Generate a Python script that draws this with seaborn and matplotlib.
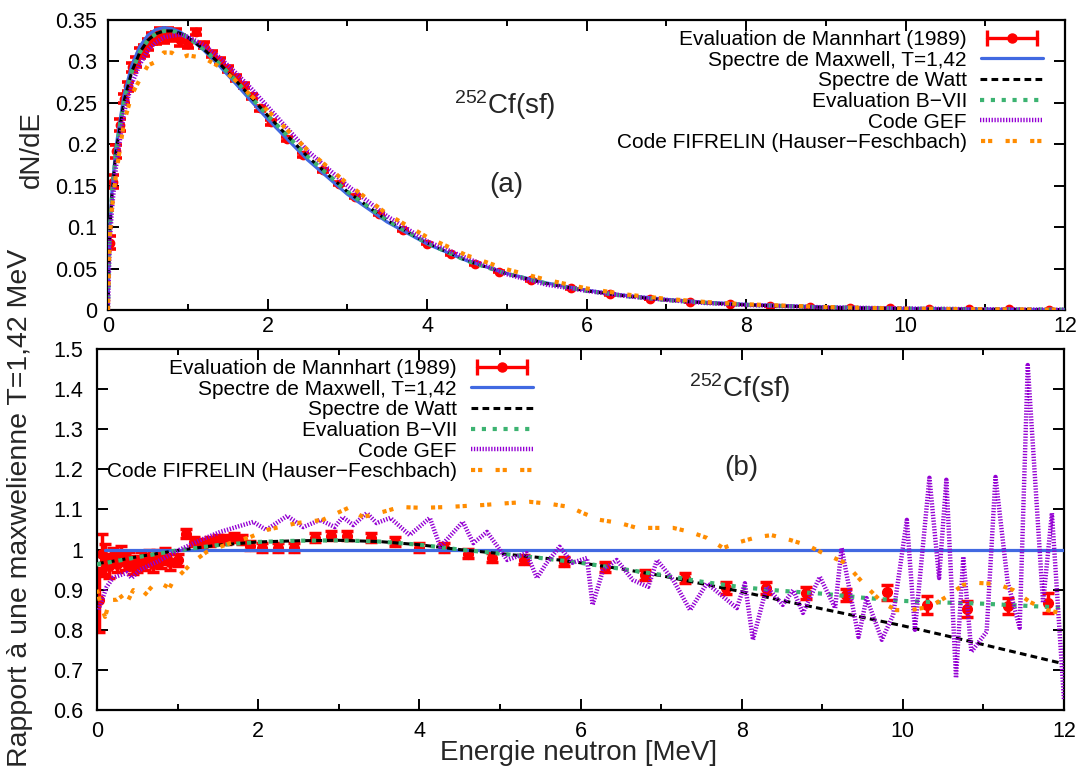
import numpy as np
import pandas as pd
import matplotlib
matplotlib.use("Agg")
import matplotlib.pyplot as plt
import seaborn as sns
from matplotlib.lines import Line2D
from matplotlib.legend_handler import HandlerLine2D, HandlerTuple
from matplotlib.ticker import MultipleLocator, FuncFormatter

# ---------------- data ----------------
# Mannhart evaluation (1989): energy, ratio to Maxwellian, dN/dE
mann_E = [0.02, 0.06, 0.1, 0.15, 0.2, 0.25, 0.3, 0.35, 0.4, 0.45, 0.5, 0.55, 0.6, 0.65, 0.7,
          0.75, 0.8, 0.85, 0.9, 1.0, 1.1, 1.2, 1.3, 1.4, 1.5, 1.6, 1.7, 1.8, 1.9, 2.05, 2.25,
          2.45, 2.7, 2.9, 3.1, 3.4, 3.7, 4.0, 4.3, 4.6, 4.9, 5.3, 5.8, 6.3, 6.8, 7.3, 7.8,
          8.3, 8.8, 9.3, 9.8, 10.3, 10.8, 11.3, 11.8]
mann_ratio = [0.875, 0.99, 0.975, 0.96, 0.985, 0.965, 0.99, 0.97, 0.975, 0.96, 0.965, 0.975,
              0.97, 0.98, 0.965, 0.98, 0.975, 0.985, 0.97, 0.975, 1.04, 1.02, 1.015, 1.02,
              1.025, 1.025, 1.03, 1.025, 1.01, 1.005, 1.005, 1.005, 1.03, 1.035, 1.035, 1.03,
              1.02, 1.005, 1.005, 0.99, 0.98, 0.975, 0.97, 0.957, 0.937, 0.929, 0.904, 0.904,
              0.892, 0.887, 0.893, 0.862, 0.852, 0.859, 0.867]
mann_ratio_err = [0.08, 0.05, 0.04, 0.03] + [0.02] * 15 + [0.015] + [0.012] * 9 + [0.012] * 9 \
    + [0.012] * 5 + [0.013] * 3 + [0.015] * 4 + [0.018, 0.022, 0.02, 0.02, 0.025]
mann_dNdE = [0.0814, 0.155, 0.1916, 0.2231, 0.2551, 0.2698, 0.2927, 0.2991, 0.3102, 0.3128,
             0.32, 0.3273, 0.3283, 0.3333, 0.3289, 0.3337, 0.331, 0.3328, 0.3256, 0.3215,
             0.3352, 0.32, 0.3089, 0.3003, 0.291, 0.2801, 0.2706, 0.2581, 0.2436, 0.2265,
             0.2061, 0.1868, 0.1686, 0.1525, 0.1369, 0.1156, 0.0966, 0.0802, 0.0673, 0.0555,
             0.0459, 0.0358, 0.0262, 0.019, 0.01357, 0.0098, 0.00693, 0.00503, 0.0036,
             0.00258, 0.00188, 0.00131, 0.00093, 0.00068, 0.00049]
mann_dNdE_err = [0.0074, 0.0078, 0.0079, 0.007, 0.0052, 0.0056, 0.0059, 0.0062, 0.0064, 0.0065,
                 0.0066, 0.0067, 0.0068, 0.0068, 0.0068, 0.0068, 0.0068, 0.0068, 0.0067, 0.0049,
                 0.0039, 0.0038, 0.0037, 0.0035, 0.0034, 0.0033, 0.0032, 0.003, 0.0029, 0.0027,
                 0.0025, 0.0022, 0.002, 0.0018, 0.0016, 0.0013, 0.0011, 0.001, 0.0008, 0.0007,
                 0.0006, 0.0004, 0.0003, 0.0003, 0.0002, 0.00014] + [0.0001] * 9

# top panel: spectra dN/dE on an energy grid
top_E = [0, 0.02, 0.05, 0.1, 0.2, 0.3, 0.4, 0.5, 0.6, 0.7, 0.8, 0.9, 1.0, 1.2, 1.4, 1.6, 1.8,
         2.0, 2.5, 3.0, 3.5, 4.0, 4.5, 5.0, 5.5, 6.0, 6.5, 7.0, 7.5, 8.0, 9.0, 10.0, 11.0, 12.0]
top_maxwell = [0, 0.093, 0.1439, 0.1965, 0.259, 0.2957, 0.3182, 0.3316, 0.3385, 0.3408, 0.3395,
               0.3357, 0.3297, 0.3137, 0.2944, 0.2733, 0.2518, 0.2306, 0.1814, 0.1398, 0.1062,
               0.0798, 0.0595, 0.0441, 0.0326, 0.0239, 0.0175, 0.0128, 0.0093, 0.0068, 0.0036,
               0.0019, 0.001, 0.0005]
top_watt = [0, 0.0898, 0.1391, 0.1902, 0.2515, 0.2883, 0.3112, 0.3256, 0.3334, 0.3367, 0.3368,
            0.334, 0.329, 0.315, 0.2973, 0.2771, 0.2561, 0.235, 0.1854, 0.143, 0.1083, 0.0808,
            0.0595, 0.0437, 0.0319, 0.0231, 0.0167, 0.012, 0.0085, 0.0061, 0.0031, 0.0015,
            0.00076, 0.00036]
top_bvii = [0, 0.0898, 0.1391, 0.1902, 0.2515, 0.2883, 0.3112, 0.3256, 0.3334, 0.3367, 0.3368,
            0.334, 0.329, 0.315, 0.2973, 0.2771, 0.2561, 0.235, 0.1854, 0.143, 0.1083, 0.0808,
            0.0595, 0.0437, 0.0319, 0.0231, 0.0167, 0.012, 0.0086, 0.0062, 0.0032, 0.00166,
            0.00087, 0.00043]
top_gef = [0, 0.078, 0.1223, 0.1729, 0.2383, 0.2735, 0.2966, 0.3134, 0.3233, 0.3289, 0.331,
           0.3323, 0.3297, 0.32, 0.3047, 0.2864, 0.2669, 0.2456, 0.1923, 0.1503, 0.1132, 0.083,
           0.0625, 0.0432, 0.0306, 0.0232, 0.0168, 0.0122, 0.0084, 0.006, 0.0032, 0.0018,
           0.0008, 0.0003]
top_fif = [0, 0.0837, 0.1238, 0.1631, 0.2264, 0.2602, 0.2784, 0.2951, 0.2996, 0.3108, 0.3106,
           0.3035, 0.3073, 0.3043, 0.2935, 0.2769, 0.2581, 0.241, 0.1934, 0.1527, 0.1158,
           0.0881, 0.0659, 0.0491, 0.0364, 0.0261, 0.0187, 0.0135, 0.0096, 0.0069, 0.0036,
           0.0016, 0.0009, 0.0004]

# bottom panel: ratios to a Maxwellian T=1.42 MeV
max_E = [0.1, 12.0]
max_r = [1.0, 1.0]
rat_E = [0.0, 0.2, 0.5, 1.0, 1.5, 2.0, 2.5, 3.0, 3.5, 4.0, 4.5, 5.0, 5.5, 6.0, 6.5, 7.0, 7.5,
         8.0, 8.5, 9.0, 9.5, 10.0, 10.5, 11.0, 11.5, 12.0]
watt_r = [0.965, 0.971, 0.982, 0.998, 1.011, 1.019, 1.022, 1.023, 1.02, 1.012, 1.0, 0.99, 0.98,
          0.967, 0.952, 0.935, 0.915, 0.895, 0.873, 0.852, 0.831, 0.81, 0.787, 0.763, 0.739,
          0.715]
bvii_r = [0.963, 0.97, 0.981, 0.998, 1.011, 1.019, 1.022, 1.023, 1.02, 1.012, 1.0, 0.99, 0.979,
          0.967, 0.952, 0.937, 0.92, 0.906, 0.897, 0.89, 0.88, 0.872, 0.868, 0.865, 0.86, 0.855]
gef_E = [0.02, 0.12, 0.2, 0.37, 0.43, 0.53, 0.75, 1.03, 1.3, 1.53, 1.94, 2.1, 2.36, 2.56, 2.77,
         2.95, 3.05, 3.18, 3.35, 3.47, 3.64, 3.88, 4.13, 4.26, 4.54, 4.67, 4.84, 5.09, 5.33,
         5.46, 5.58, 5.74, 5.9, 6.08, 6.15, 6.28, 6.45, 6.65, 6.84, 6.95, 7.15, 7.36, 7.57,
         7.94, 8.04, 8.14, 8.31, 8.51, 8.64, 8.76, 8.97, 9.16, 9.24, 9.45, 9.55, 9.74, 9.88,
         10.05, 10.15, 10.33, 10.45, 10.54, 10.66, 10.75, 10.85, 11.04, 11.15, 11.3, 11.45,
         11.55, 11.74, 11.85, 12.0]
gef_r = [0.85, 0.907, 0.93, 0.942, 0.929, 0.949, 0.97, 1.0, 1.025, 1.044, 1.069, 1.049, 1.084,
         1.056, 1.074, 1.056, 1.081, 1.061, 1.091, 1.066, 1.079, 1.036, 1.079, 1.007, 1.069,
         1.016, 1.044, 0.974, 0.991, 0.929, 0.967, 1.007, 0.967, 0.979, 0.862, 0.949, 0.974,
         0.924, 0.907, 0.974, 0.924, 0.849, 0.916, 0.854, 0.916, 0.775, 0.907, 0.862, 0.899,
         0.842, 0.932, 0.854, 1.004, 0.782, 0.879, 0.775, 0.837, 1.074, 0.8, 1.179, 0.929,
         1.174, 0.68, 0.982, 0.745, 0.795, 1.181, 0.92, 0.805, 1.46, 0.867, 1.091, 0.625]
fif_E = [0.0, 0.05, 0.1, 0.16, 0.25, 0.33, 0.37, 0.45, 0.57, 0.7, 0.8, 0.9, 0.95, 1.03, 1.19,
         1.36, 1.65, 1.9, 2.11, 2.48, 2.8, 2.98, 3.12, 3.3, 3.55, 3.76, 4.04, 4.33, 4.79, 5.12,
         5.37, 5.62, 5.87, 6.03, 6.24, 6.49, 6.7, 6.9, 7.15, 7.36, 7.57, 7.77, 7.98, 8.19, 8.37,
         8.6, 8.81, 9.01, 9.26, 9.34, 9.55, 9.75, 9.92, 10.09, 10.33, 10.54, 10.75, 10.92,
         11.17, 11.37, 11.58, 11.79, 11.95]
fif_r = [0.9, 0.86, 0.832, 0.874, 0.875, 0.887, 0.867, 0.899, 0.882, 0.912, 0.915, 0.904, 0.924,
         0.937, 0.969, 0.994, 1.016, 1.031, 1.049, 1.066, 1.074, 1.091, 1.104, 1.081, 1.094,
         1.106, 1.104, 1.106, 1.111, 1.116, 1.119, 1.114, 1.106, 1.091, 1.074, 1.066, 1.054,
         1.054, 1.054, 1.044, 1.029, 1.004, 1.019, 1.031, 1.036, 1.024, 1.011, 0.991, 0.969,
         0.954, 0.907, 0.867, 0.849, 0.849, 0.857, 0.882, 0.912, 0.917, 0.914, 0.899, 0.869,
         0.849, 0.842]

labels = ["Evaluation de Mannhart (1989)", "Spectre de Maxwell, T=1,42", "Spectre de Watt",
          "Evaluation B\u2212VII", "Code GEF", "Code FIFRELIN (Hauser\u2212Feschbach)"]

# ---------------- style ----------------
sns.set_theme(style="ticks")
plt.rcParams["font.family"] = ["Liberation Sans", "DejaVu Sans"]
plt.rcParams["mathtext.default"] = "regular"
plt.rcParams["lines.dash_capstyle"] = "butt"

RED = "#ff0000"
styles = {
    "maxwell": dict(color="#4169e1", linewidth=2.3, linestyle="-"),
    "watt": dict(color="black", linewidth=2.2, linestyle=(0, (2.2, 1.4))),
    "bvii": dict(color="#3cb371", linewidth=3.0, linestyle=(0, (1.0, 1.6))),
    "gef": dict(color="#9400d3", linewidth=3.2, linestyle=(0, (0.3, 0.35))),
    "fif": dict(color="#ff8c00", linewidth=3.0, linestyle=(0, (1.0, 0.7, 1.0, 3.2))),
}

W, H = 1081, 769
fig = plt.figure(figsize=(W / 100, H / 100), dpi=100)
ax1 = fig.add_axes([108 / W, 1 - 310 / H, 957 / W, 290 / H])
ax2 = fig.add_axes([97 / W, 1 - 710 / H, 967 / W, 361 / H])

# ---------------- top panel ----------------
ax1.errorbar(mann_E, mann_dNdE, yerr=mann_dNdE_err, fmt="o", color=RED, ms=6,
             elinewidth=2.6, capsize=4.2, capthick=2.6, zorder=2)
for key, ys in [("maxwell", top_maxwell), ("watt", top_watt), ("bvii", top_bvii),
                ("gef", top_gef), ("fif", top_fif)]:
    sns.lineplot(x=top_E, y=ys, ax=ax1, estimator=None, sort=False, zorder=3, **styles[key])

ax1.set_xlim(0, 12)
ax1.set_ylim(0, 0.35)
ax1.xaxis.set_major_locator(MultipleLocator(2))
ax1.xaxis.set_minor_locator(MultipleLocator(1))
ax1.yaxis.set_major_locator(MultipleLocator(0.05))
ax1.yaxis.set_major_formatter(FuncFormatter(lambda v, p: "%g" % round(v, 3)))
ax1.tick_params(axis="x", pad=4)
ax1.tick_params(axis="y", pad=8)

# ---------------- bottom panel ----------------
ax2.errorbar(mann_E, mann_ratio, yerr=mann_ratio_err, fmt="o", color=RED, ms=7,
             elinewidth=2.5, capsize=4.2, capthick=2.5, zorder=2)
for key, xs, ys in [("maxwell", max_E, max_r), ("watt", rat_E, watt_r), ("bvii", rat_E, bvii_r),
                    ("gef", gef_E, gef_r), ("fif", fif_E, fif_r)]:
    sns.lineplot(x=xs, y=ys, ax=ax2, estimator=None, sort=False, zorder=3, **styles[key])

ax2.set_xlim(0, 12)
ax2.set_ylim(0.6, 1.5)
ax2.xaxis.set_major_locator(MultipleLocator(2))
ax2.xaxis.set_minor_locator(MultipleLocator(1))
ax2.yaxis.set_major_locator(MultipleLocator(0.1))
ax2.yaxis.set_major_formatter(FuncFormatter(lambda v, p: "%g" % round(v, 2)))
ax2.tick_params(axis="x", pad=8)
ax2.tick_params(axis="y", pad=10)

for ax in (ax1, ax2):
    ax.tick_params(which="both", direction="in", top=True, right=True, labelsize=15.5,
                   width=1.4, colors="black")
    ax.tick_params(which="major", length=8)
    ax.tick_params(which="minor", length=4)
    for s in ax.spines.values():
        s.set_linewidth(1.6)
        s.set_color("black")
    ax.set_xlabel("")
    ax.set_ylabel("")

# ---------------- legends ----------------
def make_handles():
    caps = Line2D([], [], color=RED, lw=2.4, marker="|", ms=11, mew=2.4)
    dot = Line2D([], [], color=RED, lw=0, marker="o", ms=6.5)
    hs = [(caps, dot)]
    for key in ["maxwell", "watt", "bvii", "gef", "fif"]:
        st = styles[key]
        hs.append(Line2D([], [], color=st["color"], lw=st["linewidth"], linestyle=st["linestyle"]))
    return hs, caps


for ax, anchor in [(ax1, (1043 / W, 1 - 30 / H)), (ax2, (533 / W, 1 - 359 / H))]:
    hs, caps = make_handles()
    leg = ax.legend(hs, labels, loc="upper right", bbox_to_anchor=anchor,
                    bbox_transform=fig.transFigure, frameon=False, markerfirst=False,
                    fontsize=15, handlelength=3.0, handletextpad=0.65, labelspacing=0.08,
                    borderpad=0, borderaxespad=0,
                    handler_map={caps: HandlerLine2D(numpoints=2),
                                 tuple: HandlerTuple(ndivide=1, pad=0)})
    for t in leg.get_texts():
        t.set_color("black")

# ---------------- texts ----------------
ax1.text(4.98, 0.247, r"$^{252}$Cf(sf)", fontsize=20, ha="center", va="center")
ax1.text(4.99, 0.151, "(a)", fontsize=20, ha="center", va="center")
ax2.text(7.98, 1.403, r"$^{252}$Cf(sf)", fontsize=20, ha="center", va="center")
ax2.text(8.0, 1.203, "(b)", fontsize=20, ha="center", va="center")

fig.text(32 / W, 1 - 150 / H, "dN/dE", rotation=90, fontsize=20, ha="center", va="center")
fig.text(20 / W, 1 - 508 / H, "Rapport \u00e0 une maxwelienne T=1,42 MeV", rotation=90,
         fontsize=20.5, ha="center", va="center")
fig.text(579 / W, 1 - 753 / H, "Energie neutron [MeV]", fontsize=20, ha="center", va="center")

fig.savefig("out.png", dpi=100)
